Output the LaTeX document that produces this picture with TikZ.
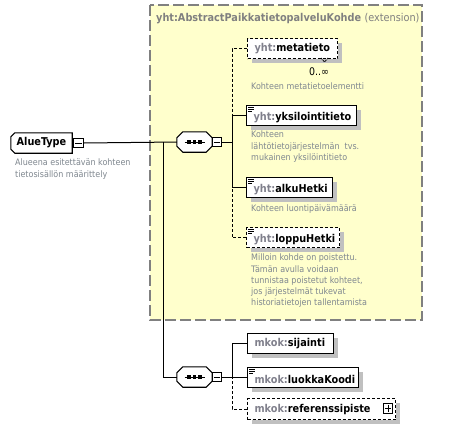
\documentclass[tikz,border=0pt]{standalone}
\usepackage{fontspec}
\setmainfont{DejaVu Sans Condensed}
\usetikzlibrary{calc}
\pgfdeclarelayer{back}
\pgfdeclarelayer{mid}
\pgfsetlayers{back,mid,main}
\definecolor{yel}{RGB}{255,255,204}
\definecolor{bordergray}{RGB}{128,128,128}
\definecolor{shadowgray}{RGB}{192,192,192}
\definecolor{descgray}{RGB}{128,136,144}
\definecolor{prefgray}{RGB}{128,128,140}
\newcommand\labfont{\fontsize{10.8}{12}\selectfont\bfseries}
\newcommand\descfont{\fontsize{8.9}{11.2}\selectfont}
\newcommand\pre[1]{\textcolor{prefgray}{#1}}
\tikzset{
  shad/.style={preaction={fill=shadowgray,draw=none,transform canvas={shift={(4pt,-4pt)}}}},
  elem/.style={draw=black,fill=white,line width=1.1pt,minimum height=20pt,inner xsep=7pt,inner ysep=0pt,
    anchor=north west,font=\labfont,align=left,shad},
  optelem/.style={elem,dash pattern=on 3pt off 2pt},
  holder/.style={draw=none,inner sep=0pt,font=\labfont},
  shapeline/.style={draw=black,fill=white,line width=1.1pt},
  pmbox/.style={draw=black,fill=white,line width=0.8pt,minimum size=9.5pt,inner sep=0pt},
  desc/.style={anchor=north west,inner sep=0pt,font=\descfont,text=descgray,align=left},
  conn/.style={line width=1pt,draw=black},
  optconn/.style={conn,dash pattern=on 3pt off 2pt},
}
\newcommand\octpath[2]{($(#1.north west)+(#2,0)$) -- ($(#1.north east)+(-#2,0)$) -- ($(#1.north east)+(0,#2)$)
  -- ($(#1.south east)+(0,-#2)$) -- ($(#1.south east)+(-#2,0)$) -- ($(#1.south west)+(#2,0)$)
  -- ($(#1.south west)+(0,-#2)$) -- ($(#1.north west)+(0,#2)$) -- cycle}
\newcommand\rootpath[2]{($(#1.north west)+(#2,0)$) -- (#1.north east) -- (#1.south east)
  -- ($(#1.south west)+(#2,0)$) -- ($(#1.south west)+(0,-#2)$) -- ($(#1.north west)+(0,#2)$) -- cycle}
\newcommand\seqsign[1]{%
  \draw[line width=1pt] ([xshift=-10pt]#1.center) -- ([xshift=10pt]#1.center);
  \foreach \dx in {-5.5,0,5.5}{\fill ([xshift=\dx pt]#1.center) +(-1.7pt,-1.7pt) rectangle +(1.7pt,1.7pt);}}
\newcommand\minussign[1]{\draw[line width=0.8pt] ([xshift=2pt]#1.west) -- ([xshift=-2pt]#1.east);}
\newcommand\plussign[1]{\draw[line width=0.8pt] ([xshift=2pt]#1.west) -- ([xshift=-2pt]#1.east)
  ([yshift=-2pt]#1.north) -- ([yshift=2pt]#1.south);}
\newcommand\simpleicon[1]{\draw[line width=0.7pt] ([shift={(2pt,-2.5pt)}]#1.north west) -- +(6pt,0)
  ([shift={(2pt,-4.5pt)}]#1.north west) -- +(6pt,0) ([shift={(2pt,-6.5pt)}]#1.north west) -- +(4pt,0);}
\begin{document}
\begin{tikzpicture}[x=1pt,y=-1pt]
\useasboundingbox (0,0) rectangle (465,429);
\begin{pgfonlayer}{back}
\fill[white] (0,0) rectangle (465,429);
\draw[draw=bordergray,fill=yel,line width=1.3pt,dash pattern=on 11pt off 4pt] (150,5) rectangle (422,320);
\end{pgfonlayer}
\node[anchor=west,inner sep=0pt,font=\labfont,text=bordergray] (title) at (156,19)
  {yht:AbstractPaikkatietopalveluKohde \mdseries(extension)};
% root
\node[holder,minimum width=61pt,minimum height=20pt] (alue) at (41.5,143) {AlueType};
\node[pmbox] (alueM) at (78.5,143) {};
\minussign{alueM}
\begin{pgfonlayer}{mid}
\fill[shadowgray,shift={(4,4)}] \rootpath{alue}{4};
\path[shapeline] \rootpath{alue}{4};
\end{pgfonlayer}
\node[desc] (alueD) at (15,159) {Alueena esitettävän kohteen\\tietosisällön määrittely};
% compositors
\node[holder,minimum width=35pt,minimum height=20pt] (comp1) at (194.5,142) {};
\node[holder,minimum width=35pt,minimum height=20pt] (comp2) at (194.5,377) {};
\begin{pgfonlayer}{mid}
\foreach \c in {comp1,comp2}{
  \fill[shadowgray,shift={(4,4)}] \octpath{\c}{6};
  \path[shapeline] \octpath{\c}{6};
}
\end{pgfonlayer}
\seqsign{comp1}
\seqsign{comp2}
\node[pmbox] (comp1M) at (217,142) {};
\minussign{comp1M}
\node[pmbox] (comp2M) at (217,377) {};
\minussign{comp2M}
\coordinate (j1) at (163,142);
\coordinate (v1) at (232,142);
\coordinate (v2) at (232,377);
\draw[conn] (alueM.east) -- (comp1.west);
\draw[conn] (j1) |- (comp2.west);
\draw[conn] (comp1M.east) -- (v1);
\draw[conn] (comp2M.east) -- (v2);
% elements of first sequence
\node[optelem,text width=76pt] (meta) at (247,38) {\pre{yht:}metatieto};
\draw[line width=0.8pt,dash pattern=on 2pt off 1pt] (321,58) -- (324.5,62) -- (328,58);
\node[anchor=center,inner sep=0pt,font=\fontsize{10.5}{12}\selectfont,text=black] (metaM) at (319,72) {0..∞};
\node[desc] (metaD) at (251,83) {Kohteen metatietoelementti};
\node[elem,text width=96pt] (yks) at (246,105) {\hspace{2pt}\pre{yht:}yksilointitieto};
\simpleicon{yks}
\node[desc] (yksD) at (251,131) {Kohteen\\lähtötietojärjestelmän\ \ tvs.\\mukainen yksilöintitieto};
\node[elem,text width=72pt] (alku) at (246,177) {\hspace{2pt}\pre{yht:}alkuHetki};
\simpleicon{alku}
\node[desc] (alkuD) at (251,205) {Kohteen luontipäivämäärä};
\node[optelem,text width=79pt] (loppu) at (246,227) {\hspace{2pt}\pre{yht:}loppuHetki};
\simpleicon{loppu}
\node[desc] (loppuD) at (251,254) {Milloin kohde on poistettu.\\Tämän avulla voidaan\\tunnistaa poistetut kohteet,\\jos järjestelmät tukevat\\historiatietojen tallentamista};
\draw[optconn] (meta.west) -| (v1);
\draw[optconn] (loppu.west) -| (v1);
\draw[conn] (yks.west) -| (v1);
\draw[conn] (alku.west) -| (v1);
% elements of second sequence
\node[elem,text width=72pt] (sij) at (247,333) {\pre{mkok:}sijainti};
\node[elem,text width=97pt] (luo) at (247,367) {\hspace{2pt}\pre{mkok:}luokkaKoodi};
\simpleicon{luo}
\node[optelem,text width=134pt,minimum height=21pt] (ref) at (247,398) {\pre{mkok:}referenssipiste};
\node[pmbox] (refP) at (388,408.5) {};
\plussign{refP}
\draw[optconn] (ref.west) -| (v2);
\draw[conn] (sij.west) -| (v2);
\draw[conn] (luo.west) -| (v2);
\end{tikzpicture}
\end{document}
